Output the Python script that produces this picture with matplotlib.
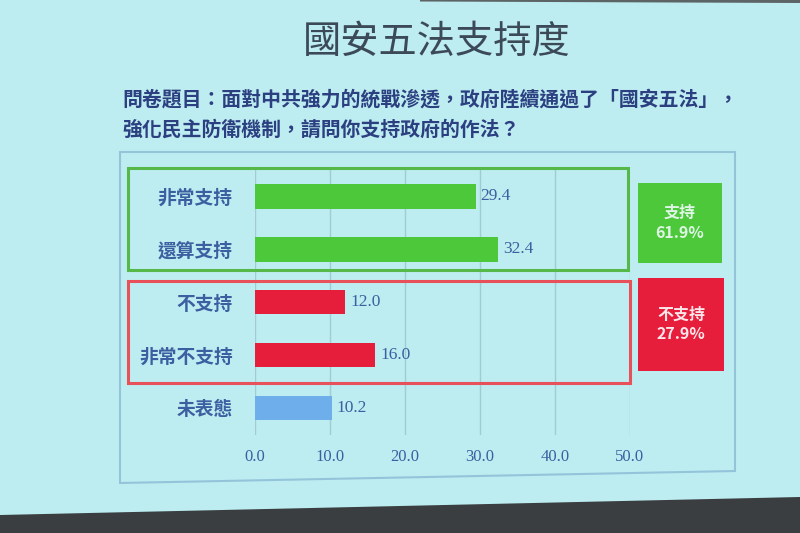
import matplotlib
matplotlib.use("Agg")
import matplotlib.pyplot as plt
from matplotlib.patches import Rectangle, Polygon

plt.rcParams["font.family"] = ["Noto Sans CJK TC", "DejaVu Sans"]

# data
categories = ["非常支持", "還算支持", "不支持", "非常不支持", "未表態"]
values = [29.4, 32.4, 12.0, 16.0, 10.2]
groups = ["support", "support", "oppose", "oppose", "none"]
summary_labels = ["支持\n61.9%", "不支持\n27.9%"]
xticks = [0, 10, 20, 30, 40, 50]

title = "國安五法支持度"
question = ("問卷題目：面對中共強力的統戰滲透，政府陸續通過了「國安五法」，\n"
            "強化民主防衛機制，請問你支持政府的作法？")

BG = "#bdedf0"
GREEN = "#4cc83a"
RED = "#e61e3c"
BLUE = "#6eaeea"
TXT = "#3b5fa0"
bar_colors = {"support": GREEN, "oppose": RED, "none": BLUE}

W, H = 800, 533
fig = plt.figure(figsize=(W / 100, H / 100), dpi=100, facecolor=BG)


def px(x, y, w, h):
    # pixel box (from top-left) -> figure fraction
    return (x / W, 1 - (y + h) / H, w / W, h / H)


def pts(*xy):
    return [(x / W, 1 - y / H) for x, y in xy]


# dark edges of the photographed slide
fig.add_artist(Polygon(pts((420, 0), (800, 0), (800, 3), (420, 1.5)),
                       transform=fig.transFigure, facecolor="#5d6466", edgecolor="none"))
fig.add_artist(Polygon(pts((0, 515), (800, 497), (800, 533), (0, 533)),
                       transform=fig.transFigure, facecolor="#3a3e40", edgecolor="none"))

fig.text(437 / W, 1 - 42 / H, title, ha="center", va="center", fontsize=27.5,
         color="#3c4a58")
fig.text(122 / W, 1 - 114 / H, question, ha="left", va="center", fontsize=14.3,
         color="#2c3f80", fontweight="bold", linespacing=1.5)

# outer chart frame (slightly skewed as in the photo)
fig.add_artist(Polygon(pts((120, 152), (735, 152), (735, 471), (120, 483)),
                       closed=True, transform=fig.transFigure,
                       facecolor="none", edgecolor="#94c4da", lw=1.5))

ax = fig.add_axes(px(255, 168, 375, 267))
ax.set_facecolor("none")
ypos = list(range(len(categories)))
ax.barh(ypos, values, height=0.47, color=[bar_colors[g] for g in groups],
        zorder=3)
for y, v in zip(ypos, values):
    ax.text(v + 0.7, y, f"{v:.1f}", va="center", ha="left", fontsize=12.5,
            color=TXT, family="Liberation Serif")
ax.set_xlim(0, 50)
ax.set_ylim(4.51, -0.53)
ax.set_yticks(ypos)
ax.set_yticklabels(categories, fontsize=13.5, color=TXT, fontweight="bold")
ax.set_xticks(xticks)
ax.set_xticklabels([f"{t:.1f}" for t in xticks], fontsize=12, color=TXT,
                   family="Liberation Serif")
ax.tick_params(length=0, axis="y", pad=16)
ax.tick_params(length=0, axis="x", pad=10)
ax.grid(axis="x", color="#a2cbd6", lw=1, zorder=0)
for s in ax.spines.values():
    s.set_visible(False)

# group boxes
g = px(128, 168, 500, 102)
fig.add_artist(Rectangle(g[:2], g[2], g[3], transform=fig.transFigure,
                         facecolor="none", edgecolor="#55b848", lw=2.2))
rr = px(128, 281, 502, 102)
fig.add_artist(Rectangle(rr[:2], rr[2], rr[3], transform=fig.transFigure,
                         facecolor="none", edgecolor="#e8505a", lw=2.2))

# summary boxes
for (x, y, w, h), col, lab, tc in [((638, 183, 84, 80), GREEN, summary_labels[0], "#dff5e6"),
                                   ((638, 278, 86, 93), RED, summary_labels[1], "#fbe6ea")]:
    b = px(x, y, w, h)
    fig.add_artist(Rectangle(b[:2], b[2], b[3], transform=fig.transFigure,
                             facecolor=col, edgecolor="none"))
    fig.text((x + w / 2) / W, 1 - (y + h / 2) / H, lab, ha="center", va="center",
             fontsize=11.5, color=tc, fontweight="bold", linespacing=1.3)

fig.savefig("out.png", dpi=100, facecolor=BG)
